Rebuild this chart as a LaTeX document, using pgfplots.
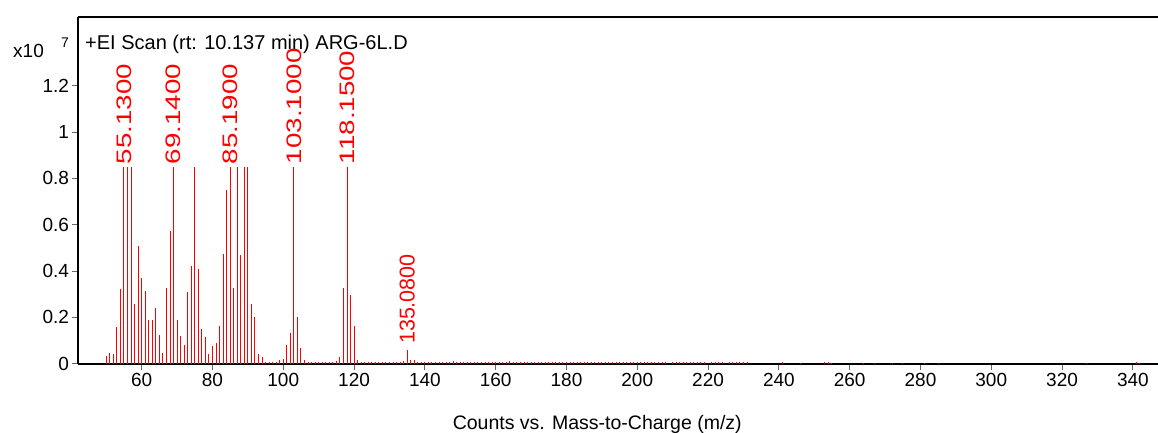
\documentclass[border=0pt]{standalone}
\usepackage{fontspec}
\setmainfont{Liberation Sans}
\newfontfamily\lblfont[FakeStretch=1.32]{Liberation Sans}
\usepackage{pgfplots}
\usepackage{pgfplotstable}
\pgfplotsset{compat=1.18}

\pgfplotstableread{
mz y
50 0.032
51 0.046
52 0.040
53 0.158
54 0.324
55 0.85
56 0.85
57 0.85
58 0.259
59 0.510
60 0.369
61 0.314
62 0.187
63 0.187
64 0.242
65 0.122
66 0.046
67 0.328
68 0.572
69 0.85
70 0.190
71 0.118
72 0.081
73 0.310
74 0.423
75 0.85
76 0.410
77 0.148
78 0.115
79 0.043
80 0.075
81 0.089
82 0.163
83 0.474
84 0.749
85 0.85
86 0.328
87 0.85
88 0.471
89 0.85
90 0.85
91 0.259
92 0.202
93 0.040
94 0.026
95 0.006
96 0.006
97 0.006
98 0.006
99 0.014
100 0.018
101 0.078
102 0.132
103 0.85
104 0.200
105 0.068
106 0.014
107 0.005
108 0.005
109 0.005
110 0.005
111 0.005
112 0.005
113 0.005
114 0.005
115 0.012
116 0.029
117 0.325
118 0.85
119 0.295
120 0.164
121 0.017
122 0.005
123 0.005
124 0.005
125 0.005
126 0.005
127 0.005
128 0.005
129 0.005
130 0.005
131 0.005
132 0.005
133 0.006
134 0.010
135 0.058
136 0.015
137 0.014
138 0.007
139 0.005
140 0.005
141 0.006
142 0.006
143 0.005
144 0.005
145 0.005
146 0.005
147 0.006
148 0.011
149 0.006
150 0.005
151 0.005
152 0.005
153 0.005
154 0.005
155 0.005
156 0.005
157 0.005
158 0.005
159 0.005
160 0.005
161 0.005
162 0.006
163 0.006
164 0.010
165 0.005
166 0.005
167 0.005
168 0.005
169 0.005
170 0.005
171 0.005
172 0.005
173 0.005
174 0.005
175 0.005
176 0.005
177 0.006
178 0.005
179 0.005
180 0.005
181 0.005
182 0.005
183 0.005
184 0.005
185 0.005
186 0.005
187 0.005
188 0.006
189 0.005
190 0.005
191 0.005
192 0.005
193 0.006
194 0.005
195 0.005
196 0.005
197 0.005
198 0.005
199 0.006
200 0.005
201 0.005
202 0.005
203 0.005
204 0.005
205 0.005
206 0.006
207 0.005
208 0.005
210 0.005
211 0.005
212 0.005
213 0.005
214 0.005
215 0.006
216 0.005
217 0.005
218 0.005
219 0.005
221 0.005
222 0.005
223 0.005
224 0.005
226 0.005
227 0.005
228 0.006
229 0.005
230 0.005
231 0.005
241 0.005
246 0.004
253 0.005
254 0.005
255 0.004
264 0.004
267 0.004
272 0.004
275 0.004
281 0.004
285 0.004
327 0.004
341 0.005
342 0.004
}\spectrum

\pgfplotstableread{
mz y label
55 0.85 55.1300
69 0.85 69.1400
85 0.85 85.1900
103 0.85 103.1000
118 0.85 118.1500
}\tallpeaks

\pgfplotstableread{
mz y label
135 0.058 135.0800
}\smallpeaks

\begin{document}
\begin{tikzpicture}
\useasboundingbox (-78.5pt,-68.5pt) rectangle (1079.5pt,363.5pt);
\begin{axis}[
  at={(0pt,0pt)}, anchor=south west,
  width=1079.5pt, height=347pt, scale only axis,
  xmin=42.15, xmax=347.1, ymin=0, ymax=1.5,
  clip=false,
  axis x line*=bottom, axis y line*=left,
  axis line style={line width=2pt, black},
  tick align=outside, major tick length=6pt,
  tick style={line width=0.9pt, black!60},
  xtick={60,80,...,340},
  ytick={0,0.2,0.4,0.6,0.8,1,1.2},
  yticklabels={0,0.2,0.4,0.6,0.8,1,1.2},
  /pgf/number format/assume math mode=true,
  ticklabel style={font=\fontsize{19}{22}\selectfont},
  xlabel={Counts vs. Mass-to-Charge (m/z)},
  xlabel style={font=\fontsize{19.5}{22}\selectfont, yshift=-22pt, xshift=-21pt},
]
\addplot[forget plot, draw=none, mark=none, nodes near coords, point meta=explicit symbolic,
  every node near coord/.append style={rotate=90, anchor=west, color=red,
    inner sep=0pt, inner xsep=2.5pt, font=\lblfont\fontsize{21}{22}\selectfont}]
  table[x=mz, y=y, meta=label] {\tallpeaks};
\addplot[forget plot, draw=none, mark=none, nodes near coords, point meta=explicit symbolic,
  every node near coord/.append style={rotate=90, anchor=west, color=red,
    inner sep=0pt, inner xsep=6pt, font=\fontsize{21.5}{22}\selectfont}]
  table[x=mz, y=y, meta=label] {\smallpeaks};
\addplot[ycomb, draw=red, line width=1pt, mark=none] table[x=mz, y=y] {\spectrum};
\draw[line width=2pt, black] (rel axis cs:0,1) -- (rel axis cs:1,1);
\node[anchor=base west, inner sep=0pt, font=\fontsize{20}{22}\selectfont]
  at (rel axis cs:0,1) [xshift=6.5pt, yshift=-32.5pt] {+EI Scan (rt: 10.137 min) ARG-6L.D};
\node[anchor=base west, inner sep=0pt, font=\fontsize{19}{22}\selectfont]
  at (rel axis cs:0,1) [xshift=-65.5pt, yshift=-40.5pt] {x10};
\node[anchor=base west, inner sep=0pt, font=\fontsize{14}{16}\selectfont]
  at (rel axis cs:0,1) [xshift=-17.5pt, yshift=-30.5pt] {7};
\end{axis}
\end{tikzpicture}
\end{document}
